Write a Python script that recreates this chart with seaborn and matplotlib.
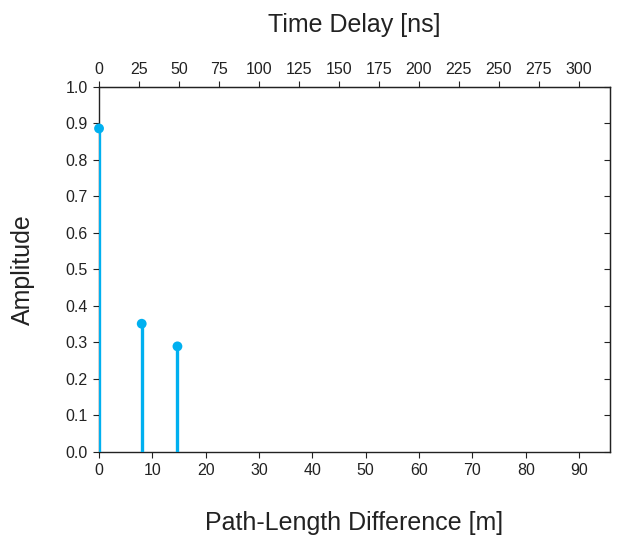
import matplotlib
matplotlib.use("Agg")
import matplotlib.pyplot as plt
import seaborn as sns
import numpy as np
import pandas as pd

# Data
path_diff_m = [0.0, 8.0, 14.7]
amplitude = [0.886, 0.351, 0.289]
x_ticks = [0, 10, 20, 30, 40, 50, 60, 70, 80, 90]
y_ticks = [0.0, 0.1, 0.2, 0.3, 0.4, 0.5, 0.6, 0.7, 0.8, 0.9, 1.0]
top_ticks_ns = [0, 25, 50, 75, 100, 125, 150, 175, 200, 225, 250, 275, 300]

C = 0.29979  # m per ns
color = "#00B0F0"
ink = "#222222"

sns.set_style("ticks")
plt.rcParams["font.family"] = ["Liberation Sans", "DejaVu Sans"]
plt.rcParams["text.color"] = ink
plt.rcParams["axes.labelcolor"] = ink
plt.rcParams["xtick.color"] = ink
plt.rcParams["ytick.color"] = ink

df = pd.DataFrame({"m": path_diff_m, "amp": amplitude})

fig = plt.figure(figsize=(6.19, 5.36), dpi=100)
ax = fig.add_axes([0.160, 0.157, 0.8255, 0.681])

ax.vlines(df["m"], 0, df["amp"], color=color, lw=2.4, zorder=3)
sns.scatterplot(data=df, x="m", y="amp", ax=ax, color=color, s=50,
                edgecolor="none", zorder=4, clip_on=False)

ax.set_xlim(0, 95.8)
ax.set_ylim(0, 1.0)
ax.set_xticks(x_ticks)
ax.set_yticks(y_ticks)
ax.set_yticklabels([f"{v:.1f}" for v in y_ticks])
for s in ax.spines.values():
    s.set_visible(True)
    s.set_color(ink)
    s.set_linewidth(1.0)
ax.tick_params(axis="both", labelsize=11.5, length=4, width=0.8, color=ink,
               direction="out", pad=4)

sec_y = ax.secondary_yaxis("right")
sec_y.set_yticks(y_ticks)
sec_y.tick_params(direction="in", length=4, width=0.8, labelright=False, color=ink)

ax.set_xlabel("Path-Length Difference [m]", fontsize=18, labelpad=24)
ax.set_ylabel("Amplitude", fontsize=18, labelpad=22)

top = ax.secondary_xaxis("top", functions=(lambda m: m / C, lambda t: t * C))
top.set_xticks(top_ticks_ns)
top.tick_params(labelsize=11.5, length=4, width=0.8, direction="out", pad=3, color=ink)
top.set_xlabel("Time Delay [ns]", fontsize=18, labelpad=22)

ax.grid(False)
fig.savefig("out.png", dpi=100)
